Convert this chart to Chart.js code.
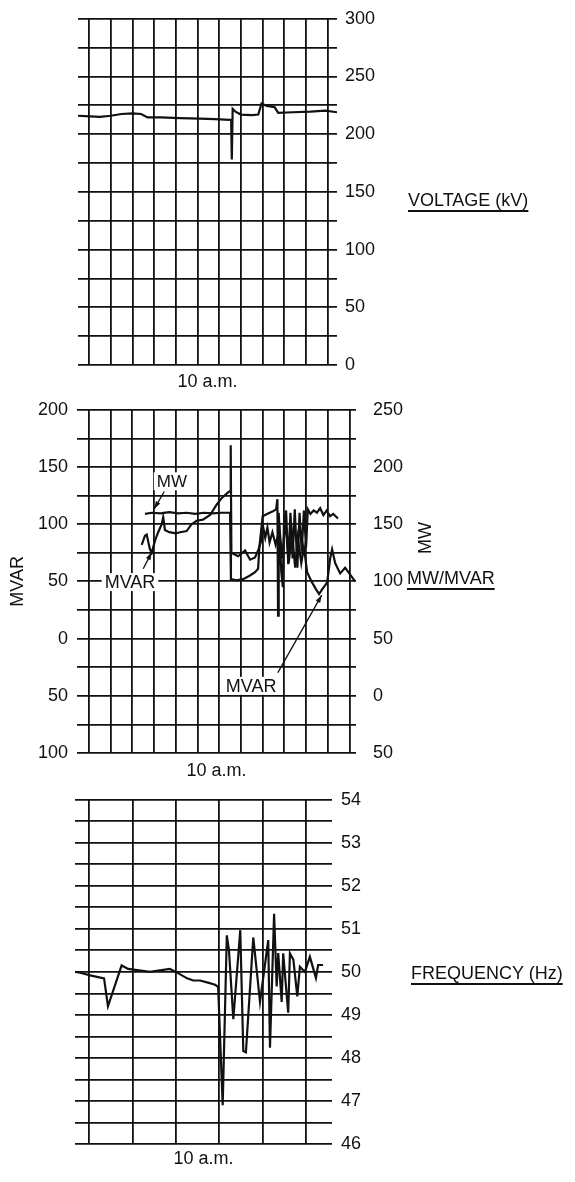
<!DOCTYPE html>
<html><head><meta charset="utf-8">
<script src="https://cdn.jsdelivr.net/npm/chart.js@4.4.1/dist/chart.umd.min.js"></script>
<style>
html,body{margin:0;background:#fff}
body{width:575px;height:1182px;position:relative;overflow:hidden;font-family:"Liberation Sans",Arial,Helvetica,sans-serif;color:#111}
canvas{position:absolute;left:0}
.ttl{position:absolute;font-size:18px;line-height:20px;white-space:nowrap;text-decoration:underline;text-underline-offset:4px;text-decoration-thickness:1.5px}
.rot{position:absolute;font-size:18px;line-height:20px;white-space:nowrap;transform:translate(-50%,-50%) rotate(-90deg)}
</style></head><body>
<canvas id="c1" width="575" height="395" style="top:0"></canvas>
<canvas id="c2" width="575" height="400" style="top:390px"></canvas>
<canvas id="c3" width="575" height="402" style="top:780px"></canvas>
<div class="ttl" style="left:408px;top:190px">VOLTAGE (kV)</div>
<div class="ttl" style="left:407px;top:568px">MW/MVAR</div>
<div class="ttl" style="left:411px;top:963px">FREQUENCY (Hz)</div>
<div class="rot" style="left:425px;top:538px">MW</div>
<script>
// x is in chart-paper divisions (one thin vertical rule per division), 10 a.m. sits mid-sheet
const voltX=[-0.51,0.05,0.5,1.0,1.5,2.0,2.4,2.7,3.3,4.2,5.1,5.8,6.5,6.55,6.58,6.62,6.75,7.0,7.5,7.8,7.95,8.2,8.55,8.72,9.4,10.2,10.9,11.43]
const voltKV=[216,215.5,215,216,217.5,218,217.5,214.5,214.5,214,213.5,213,212.5,212.5,178,222,219.5,217,216.5,217,226.5,224.5,223.5,218.5,219,219.5,220.5,219]

const mwX=[2.58,2.9,3.3,3.7,4.1,4.5,4.9,5.3,5.7,6.1,6.5,6.54,6.8,7.1,7.4,7.65,7.79,7.85,8.0,8.2,8.45,8.62,8.68,8.71,8.74,8.86,8.93,8.98,9.08,9.18,9.28,9.38,9.48,9.6,9.7,9.8,9.9,10.0,10.08,10.2,10.35,10.5,10.65,10.8,10.95,11.1,11.25,11.47]
const mwVal=[159,160,159.5,160.5,159.5,160,159,160,159.5,160,160,102,101,102,105,108,111,130,157,159,161,163,172,70,160,108,95,150,162,115,160,120,163,112,160,126,162,130,163,159,162,160,164,158,162,157,159,155]

const mvarX=[2.43,2.58,2.66,2.81,2.89,3.05,3.19,3.35,3.42,3.5,3.7,4.0,4.2,4.5,4.73,4.96,5.25,5.58,5.88,6.12,6.42,6.5,6.53,6.56,6.87,7.19,7.42,7.65,7.79,7.93,8.02,8.12,8.22,8.32,8.45,8.6,8.78,8.9,9.05,9.2,9.35,9.5,9.62,9.78,9.9,10.05,10.25,10.46,10.6,10.74,10.97,11.11,11.2,11.34,11.57,11.8,12.03,12.26]
const mvarVal=[82,90,91,78,75,86,93,100,106,95,93,92,93,94,100,103,104,108,117,123,128,129,169,75,72,77,69,71,77,85,98,88,97,84,93,82,96,70,103,66,92,62,88,66,80,58,50,43,39,43,49,70,78,66,57,62,56,50]

const freqX=[-0.65,-0.41,0.05,0.69,0.87,1.5,1.8,2.8,3.72,4.0,4.52,4.8,5.12,5.48,5.81,5.95,6.16,6.35,6.45,6.65,6.97,7.11,7.23,7.57,7.88,8.26,8.34,8.53,8.65,8.72,8.88,8.95,9.18,9.26,9.42,9.6,9.72,9.95,10.18,10.46,10.56,10.79]
const freqHz=[50.0,49.98,49.92,49.85,49.2,50.15,50.07,50.0,50.07,50.0,49.85,49.8,49.8,49.75,49.7,49.65,46.9,50.85,50.5,48.9,50.97,48.16,48.13,50.8,49.3,50.74,48.24,51.35,49.66,50.44,49.3,50.43,49.05,50.43,50.28,49.43,50.12,50.0,50.35,49.86,50.16,50.16]

const rulesTop=[0,1,2,3,4,5,6,7,8,9,10,11]
const rulesMid=[0,1,2,3,4,5,6,7,8,9,10,11,12]
const rulesLow=[0,2,4,6,8,10]

// callouts on the MW/MVAR sheet, in (division, MVAR) units
const noteText=['MW','MVAR','MVAR']
const noteAt=[[3.82,137.5],[1.89,49.4],[7.47,-41.3]]
const arrowFrom=[[3.47,128.6],[2.5,61],[8.7,-29.8]]
const arrowTo=[[3.01,113.4],[2.89,75.4],[10.72,38]]

const INK='#111'
const FONT='"Liberation Sans", Arial, Helvetica, sans-serif'
Chart.defaults.font.family=FONT
Chart.defaults.color=INK

const pts=(xs,ys)=>xs.map((x,i)=>({x,y:ys[i]}))
const grid={color:INK,lineWidth:1.8,drawTicks:false}
function xAxis(min,max,rules,h,padB){
  return {type:'linear',min,max,
    afterBuildTicks:s=>{s.ticks=rules.map(v=>({value:v}))},
    afterFit:s=>{s.height=h},
    grid,border:{display:false},ticks:{display:false},
    title:{display:true,text:'10 a.m.',color:INK,font:{size:18},padding:{top:0,bottom:padB}}}
}
function yAxis(pos,min,max,step,w,pad,lab){
  return {position:pos,min,max,afterFit:s=>{s.width=w},
    grid,border:{display:false},
    ticks:{stepSize:step,autoSkip:false,padding:pad,color:INK,font:{size:18},callback:lab}}
}
const line=(data,axis)=>({data,yAxisID:axis,borderColor:INK,borderWidth:2.2,pointRadius:0,tension:0,fill:false})
const base=(pad)=>({responsive:false,animation:false,events:[],layout:{padding:pad},
  plugins:{legend:{display:false},tooltip:{enabled:false}}})

new Chart(document.getElementById('c1'),{
  type:'line',
  data:{datasets:[line(pts(voltX,voltKV),'y')]},
  options:{...base({left:78,top:18,right:0,bottom:0}),
    scales:{
      x:xAxis(-0.51,11.43,rulesTop,30,2.2),
      y:yAxis('right',0,300,25,238,8,v=>v%50===0?String(v):'')
    }}
})

const notePlugin={id:'notes',afterDatasetsDraw(chart){
  const {ctx,scales:{x,yL}}=chart
  ctx.save()
  ctx.strokeStyle=INK;ctx.fillStyle=INK;ctx.lineWidth=1.3
  arrowFrom.forEach((a,i)=>{
    const b=arrowTo[i]
    const x0=x.getPixelForValue(a[0]),y0=yL.getPixelForValue(a[1])
    const x1=x.getPixelForValue(b[0]),y1=yL.getPixelForValue(b[1])
    ctx.beginPath();ctx.moveTo(x0,y0);ctx.lineTo(x1,y1);ctx.stroke()
    const ang=Math.atan2(y1-y0,x1-x0)
    ctx.beginPath();ctx.moveTo(x1,y1)
    ctx.lineTo(x1-8*Math.cos(ang-0.32),y1-8*Math.sin(ang-0.32))
    ctx.lineTo(x1-8*Math.cos(ang+0.32),y1-8*Math.sin(ang+0.32))
    ctx.closePath();ctx.fill()
  })
  ctx.textAlign='center';ctx.textBaseline='middle'
  noteText.forEach((t,i)=>{
    ctx.font=(t==='MW'?'17px ':'18px ')+FONT
    const px=x.getPixelForValue(noteAt[i][0]),py=yL.getPixelForValue(noteAt[i][1])
    const w=ctx.measureText(t).width
    ctx.fillStyle='#fff';ctx.fillRect(px-w/2-3,py-9,w+6,18)
    ctx.fillStyle=INK;ctx.fillText(t,px,py+1)
  })
  ctx.restore()
}}

new Chart(document.getElementById('c2'),{
  type:'line',
  data:{datasets:[line(pts(mwX,mwVal),'yR'),line(pts(mvarX,mvarVal),'yL')]},
  options:{...base({left:0,top:15.7,right:0,bottom:0}),
    scales:{
      x:xAxis(-0.55,12.3,rulesMid,37,8.2),
      yL:{...yAxis('left',-100,200,25,77,9,v=>v%50===0?String(Math.abs(v)):''),
        title:{display:true,text:'MVAR',color:INK,font:{size:18},padding:{top:7.7,bottom:0}}},
      yR:{...yAxis('right',-50,250,25,219,9,v=>v%50===0?String(Math.abs(v)):''),grid:{display:false}}
    }},
  plugins:[notePlugin]
})

new Chart(document.getElementById('c3'),{
  type:'line',
  data:{datasets:[line(pts(freqX,freqHz),'y')]},
  options:{...base({left:75,top:16,right:0,bottom:0}),
    scales:{
      x:xAxis(-0.65,11.2,rulesLow,38,12.2),
      y:yAxis('right',46,54,0.5,243,9,v=>Number.isInteger(v)?String(v):'')
    }}
})
</script>
</body></html>
